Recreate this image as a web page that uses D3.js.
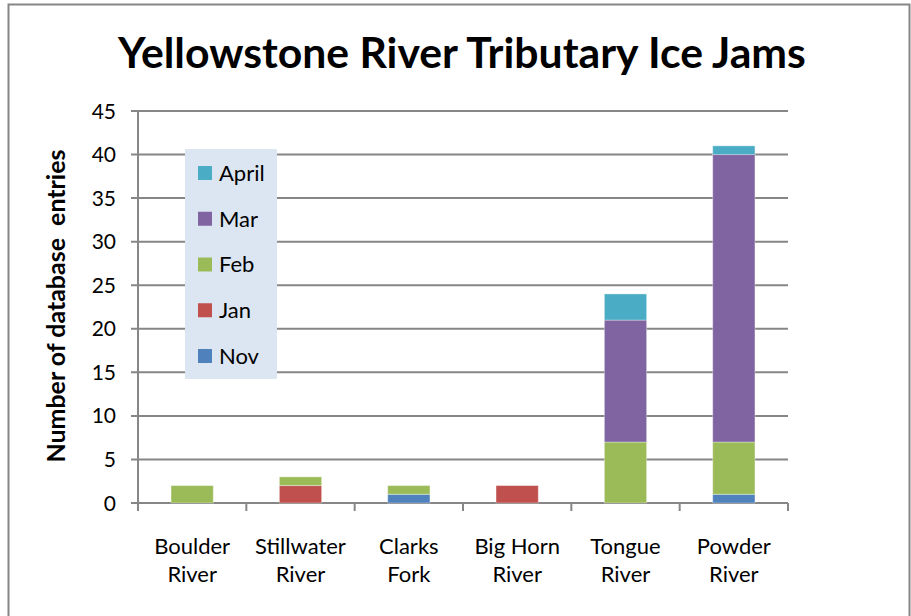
<!DOCTYPE html>
<meta charset="utf-8">
<script src="https://d3js.org/d3.v7.min.js"></script>
<style>
  body { margin: 0; background: #fff; }
  text { font-family: Lato, "Open Sans", sans-serif; fill: #000; }
</style>
<div id="chart"></div>
<script>

// data
var rivers = ["Boulder River", "Stillwater River", "Clarks Fork", "Big Horn River", "Tongue River", "Powder River"];
var months = ["Nov", "Jan", "Feb", "Mar", "April"];
var nov   = [0, 0, 1, 0, 0, 1];
var jan   = [0, 2, 0, 2, 0, 0];
var feb   = [2, 1, 1, 0, 7, 6];
var mar   = [0, 0, 0, 0, 14, 33];
var april = [0, 0, 0, 0, 3, 1];
var yTicks = [0, 5, 10, 15, 20, 25, 30, 35, 40, 45];
var colors = ["#4f81bd", "#c0504d", "#9bbb59", "#8064a2", "#4bacc6"];

var W = 911, H = 616;
var svg = d3.select("#chart").append("svg")
  .attr("width", W).attr("height", H);

// fit a text element to a given length by changing its font size
function fitText(sel, size, len) {
  sel.style("font-size", size + "px");
  var w = sel.node().getComputedTextLength();
  sel.style("font-size", (size * len / w) + "px");
}

// outer chart border
svg.append("rect")
  .attr("x", 8.5).attr("y", 4.5)
  .attr("width", 901).attr("height", 640)
  .attr("fill", "#fff")
  .attr("stroke", "#868686")
  .attr("stroke-width", 2);

var table = rivers.map(function(r, i) {
  return {river: r, Nov: nov[i], Jan: jan[i], Feb: feb[i], Mar: mar[i], April: april[i]};
});
var stacked = d3.stack().keys(months)(table);

var x = d3.scaleBand().domain(rivers).range([138, 788]).paddingInner(0.61).paddingOuter(0.305);
var xb = d3.scaleBand().domain(rivers).range([138, 788]);
var y = d3.scaleLinear().domain([0, 45]).range([503, 111]);

// gridlines
svg.append("g")
  .selectAll("line").data(yTicks).enter().append("line")
  .attr("x1", 131).attr("x2", 788)
  .attr("y1", d => y(d)).attr("y2", d => y(d))
  .attr("stroke", "#868686").attr("stroke-width", 2);

svg.append("g")
  .selectAll("text").data(yTicks).enter().append("text")
  .attr("x", 116).attr("y", d => y(d))
  .attr("dy", "0.36em")
  .attr("text-anchor", "end")
  .style("font-size", "21px")
  .text(d => d);

// y axis line
svg.append("line")
  .attr("x1", 138).attr("x2", 138)
  .attr("y1", y(45)).attr("y2", 510)
  .attr("stroke", "#868686").attr("stroke-width", 2);

// x ticks at category borders
var borders = rivers.map(r => xb(r)).concat([788]);
svg.append("g")
  .selectAll("line").data(borders).enter().append("line")
  .attr("x1", d => d).attr("x2", d => d)
  .attr("y1", y(0)).attr("y2", 511)
  .attr("stroke", "#868686").attr("stroke-width", 2);

// bars
svg.append("g")
  .selectAll("g").data(stacked).enter().append("g")
  .attr("fill", (d, i) => colors[i])
  .selectAll("rect").data(d => d).enter().append("rect")
  .attr("x", d => x(d.data.river))
  .attr("width", x.bandwidth())
  .attr("y", d => y(d[1]))
  .attr("height", d => y(d[0]) - y(d[1]))
  .attr("stroke", "rgba(255,255,255,0.35)")
  .attr("stroke-width", 1);

// category labels, split at the last space
var labs = svg.append("g")
  .selectAll("text").data(rivers).enter().append("text")
  .attr("text-anchor", "middle")
  .style("font-size", "22px");
labs.each(function(r) {
  var k = r.lastIndexOf(" ");
  var cx = xb(r) + xb.bandwidth() / 2;
  var t = d3.select(this);
  t.append("tspan").attr("x", cx).attr("y", 554).text(r.slice(0, k));
  t.append("tspan").attr("x", cx).attr("y", 582).text(r.slice(k + 1));
});

// y axis title
var ylab = svg.append("text")
  .attr("transform", "translate(65,306) rotate(-90)")
  .attr("text-anchor", "middle")
  .style("font-weight", "bold")
  .style("white-space", "pre")
  .text("Number of database  entries");
fitText(ylab, 20, 313);

// title
var title = svg.append("text")
  .attr("x", 462).attr("y", 68)
  .attr("text-anchor", "middle")
  .style("font-weight", "bold")
  .text("Yellowstone River Tributary Ice Jams");
fitText(title, 36, 688);

// legend
var lg = svg.append("g");
lg.append("rect")
  .attr("x", 185).attr("y", 149)
  .attr("width", 92).attr("height", 230)
  .attr("fill", "#dce6f2");
var legendOrder = months.slice().reverse();
var ly = d3.scalePoint().domain(legendOrder).range([173, 356]);
var items = lg.selectAll("g").data(legendOrder).enter().append("g")
  .attr("transform", d => "translate(198," + ly(d) + ")");
items.append("rect")
  .attr("x", 0).attr("y", -7)
  .attr("width", 14).attr("height", 14)
  .attr("fill", d => colors[months.indexOf(d)]);
items.append("text")
  .attr("x", 21).attr("y", 0).attr("dy", "0.36em")
  .style("font-size", "22px")
  .text(d => d);

</script>
